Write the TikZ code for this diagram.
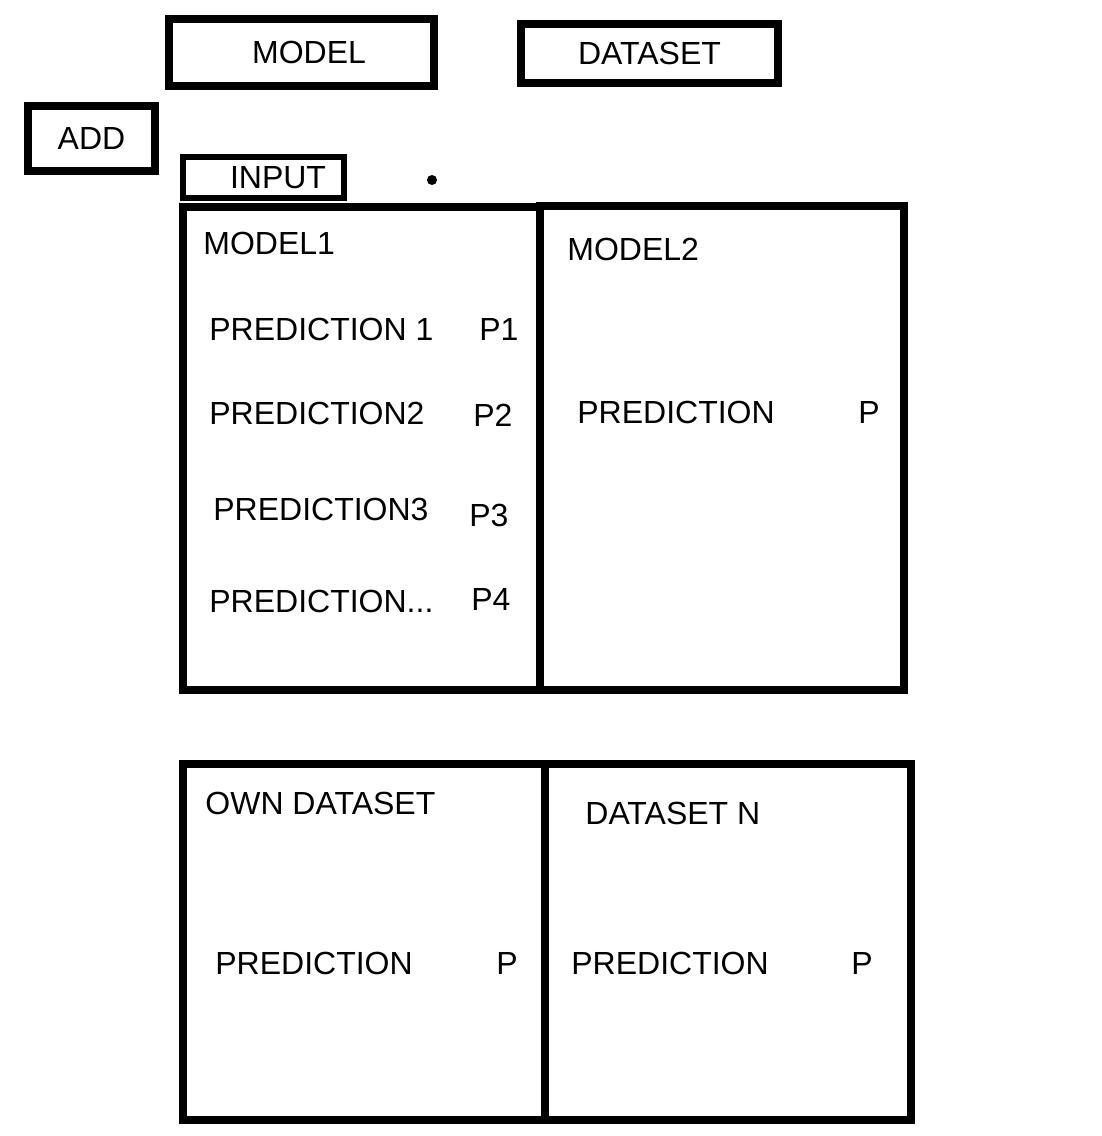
\documentclass[tikz,border=0pt]{standalone}
\usepackage{fontspec}
\setmainfont{Liberation Sans}
\begin{document}
\begin{tikzpicture}[x=0.5pt,y=-0.5pt,
  lbl/.style={font=\fontsize{16}{19}\selectfont},
  box/.style={draw=black,line width=4pt,inner sep=0pt,lbl},
  thinbox/.style={box,line width=3pt},
  panel/.style={draw=black,line width=4pt,inner sep=0pt},
  txt/.style={inner sep=0pt,anchor=west,lbl}]
\useasboundingbox (0,0) rectangle (1102,1136);
% top buttons
\node[box,minimum width=132.5pt,minimum height=33.5pt] (model) at (301.5,52.5) {\hspace*{7.5pt}MODEL};
\node[box,minimum width=128.5pt,minimum height=29.5pt] (dataset) at (649.5,53.5) {DATASET};
\node[box,minimum width=63.5pt,minimum height=32.5pt] (add) at (91.5,138.5) {ADD};
\node[thinbox,minimum width=80.5pt,minimum height=20.5pt] (input) at (263.5,177.5) {\hspace*{14.5pt}INPUT};
\node[circle,fill=black,inner sep=0pt,minimum size=5pt] (dot) at (432,180) {};
% panels
\node[panel,minimum width=178.5pt,minimum height=241.5pt] (m1) at (361.5,448.5) {};
\node[panel,minimum width=182pt,minimum height=242pt] (m2) at (722,448) {};
\node[panel,minimum width=181pt,minimum height=178pt] (od) at (364,942) {};
\node[panel,minimum width=183pt,minimum height=178pt] (dn) at (728,942) {};
% model1 texts
\node[txt] (m1t) at (203,243) {MODEL1};
\node[txt] (p1l) at (209,329) {PREDICTION 1};
\node[txt] (p1v) at (479,329) {P1};
\node[txt] (p2l) at (209,413) {PREDICTION2};
\node[txt] (p2v) at (473,415) {P2};
\node[txt] (p3l) at (213,509) {PREDICTION3};
\node[txt] (p3v) at (469,515) {P3};
\node[txt] (p4l) at (209,601) {PREDICTION...};
\node[txt] (p4v) at (471,599) {P4};
% model2 texts
\node[txt] (m2t) at (567,249) {MODEL2};
\node[txt] (m2l) at (577,412) {PREDICTION};
\node[txt] (m2v) at (858,412) {P};
% own dataset
\node[txt] (odt) at (205,803) {OWN DATASET};
\node[txt] (odl) at (215,963) {PREDICTION};
\node[txt] (odv) at (496,963) {P};
% dataset n
\node[txt] (dnt) at (585,813) {DATASET N};
\node[txt] (dnl) at (571,963) {PREDICTION};
\node[txt] (dnv) at (851,963) {P};
\end{tikzpicture}
\end{document}
